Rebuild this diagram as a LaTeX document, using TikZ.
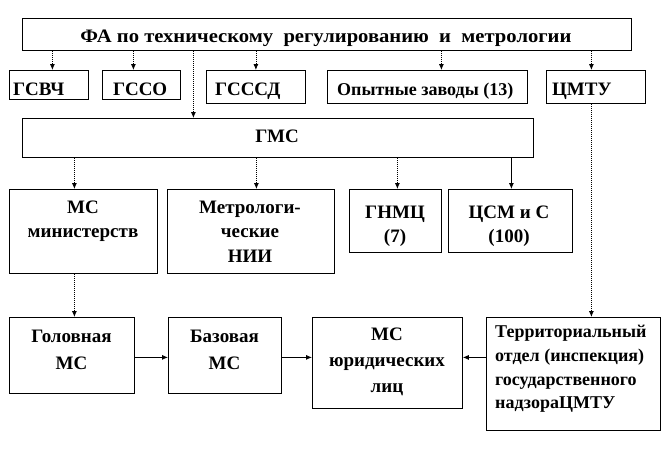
\documentclass[tikz,border=0pt]{standalone}
\usepackage{fontspec}
\setmainfont{Liberation Serif}
\usetikzlibrary{arrows.meta,calc}
\tikzset{
  box/.style={draw=black, line width=0.8pt, fill=white, rectangle, inner sep=0pt, anchor=north west},
  lbl/.style={font=\fontsize{19}{#1}\selectfont\bfseries, inner sep=0pt, align=center, anchor=north},
  lbl/.default=25,
  small/.style={font=\fontsize{18}{#1}\selectfont\bfseries},
  small/.default=25,
  varr/.style={-{Latex[length=6pt,width=5pt]}, line width=0.8pt, dash pattern=on 1pt off 1pt},
  sarr/.style={-{Latex[length=6pt,width=5pt]}, line width=0.8pt},
}
\begin{document}
\begin{tikzpicture}[x=1pt,y=-1pt]
\useasboundingbox (0,0) rectangle (668,458);
% boxes
\node[box, minimum width=609pt, minimum height=32pt] (top) at (22,18) {};
\node[box, minimum width=79pt, minimum height=29pt] (gsvch) at (9,70) {};
\node[box, minimum width=78pt, minimum height=29pt] (gsso) at (102,70) {};
\node[box, minimum width=99pt, minimum height=33pt] (gsssd) at (206,70) {};
\node[box, minimum width=200pt, minimum height=33pt] (opyt) at (327,70) {};
\node[box, minimum width=99pt, minimum height=33pt] (cmtu) at (546,70) {};
\node[box, minimum width=511pt, minimum height=39pt] (gms) at (22,118) {};
\node[box, minimum width=148pt, minimum height=84pt] (msmin) at (9,189) {};
\node[box, minimum width=167pt, minimum height=84pt] (metr) at (167,189) {};
\node[box, minimum width=92pt, minimum height=63pt] (gnmc) at (349,189) {};
\node[box, minimum width=124pt, minimum height=63pt] (csm) at (448,189) {};
\node[box, minimum width=125pt, minimum height=76pt] (gol) at (9,317) {};
\node[box, minimum width=113pt, minimum height=76pt] (baz) at (168,317) {};
\node[box, minimum width=150pt, minimum height=91pt] (msur) at (312,317) {};
\node[box, minimum width=174pt, minimum height=113pt] (terr) at (486,317) {};
% texts
\node[lbl] (topT) at (326,24.5) {\strut\scalebox{1.085}[1]{ФА по техническому\ \ регулированию\ \ и\ \ метрологии}};
\node[lbl, anchor=north west] (gsvchT) at (13,77.5) {\strut ГСВЧ};
\node[lbl, anchor=north west] (gssoT) at (113,77.5) {\strut ГССО};
\node[lbl, anchor=north west] (gsssdT) at (215,77.5) {\strut ГСССД};
\node[lbl, small, anchor=north west] (opytT) at (337,77.5) {\strut Опытные заводы (13)};
\node[lbl, anchor=north west] (cmtuT) at (552,77.5) {\strut ЦМТУ};
\node[lbl] (gmsT) at (277,124.5) {\strut ГМС};
\node[lbl=24.5] (msminT) at (83,195.9) {\strut МС\\министерств};
\node[lbl=24.5] (metrT) at (250,195.9) {\strut Метрологи-\\ческие\\НИИ};
\node[lbl=24] (gnmcT) at (395,201.2) {\strut ГНМЦ\\(7)};
\node[lbl=24] (csmT) at (509,201.2) {\strut ЦСМ\ и\ С\\(100)};
\node[lbl=27] (golT) at (71.5,323.1) {\strut Головная\\МС};
\node[lbl=27] (bazT) at (224.5,323.1) {\strut Базовая\\МС};
\node[lbl=26] (msurT) at (387,321.8) {\strut МС\\юридических\\лиц};
\node[lbl, small=23.7, align=left, anchor=north west] (terrT) at (495,320.9) {\strut Территориальный\\отдел (инспекция)\\государственного\\надзораЦМТУ};
% arrows from top
\draw[varr] ($(top.south -| gsvch.north)+(3.5,0)$) -- ($(gsvch.north)+(3.5,0)$);
\draw[varr] ($(top.south -| gsso.north)+(-8,0)$) -- ($(gsso.north)+(-8,0)$);
\draw[varr] ($(top.south -| gms.north)+(-84.5,0)$) -- ($(gms.north)+(-84.5,0)$);
\draw[varr] (top.south -| gsssd.north) -- (gsssd.north);
\draw[varr] ($(top.south -| opyt.north)+(14,0)$) -- ($(opyt.north)+(14,0)$);
\draw[varr] ($(top.south -| cmtu.north)+(-4.5,0)$) -- ($(cmtu.north)+(-4.5,0)$);
% arrows from GMS
\draw[varr] ($(gms.south -| msmin.north)+(-9,0)$) -- ($(msmin.north)+(-9,0)$);
\draw[varr] ($(gms.south -| metr.north)+(5.5,0)$) -- ($(metr.north)+(5.5,0)$);
\draw[varr] ($(gms.south -| gnmc.north)+(2,0)$) -- ($(gnmc.north)+(2,0)$);
\draw[sarr] ($(gms.south -| csm.north)+(1,0)$) -- ($(csm.north)+(1,0)$);
% lower arrows
\draw[varr] ($(msmin.south)+(-9,0)$) coordinate (a1) -- (a1 |- gol.north);
\draw[varr] ($(cmtu.south)+(-4.5,0)$) coordinate (a2) -- (a2 |- terr.north);
\draw[sarr] ($(gol.east)+(0,2)$) -- ($(gol.east -| baz.west)+(0,2)$);
\draw[sarr] ($(baz.east)+(0,2)$) -- ($(baz.east -| msur.west)+(0,2)$);
\draw[sarr] ($(terr.west)+(0,-16.5)$) -- ($(terr.west -| msur.east)+(0,-16.5)$);
\end{tikzpicture}
\end{document}
